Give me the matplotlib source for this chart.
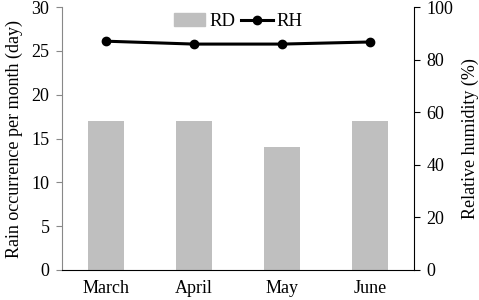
import matplotlib
matplotlib.use("Agg")
import matplotlib.pyplot as plt
import numpy as np
from matplotlib.lines import Line2D
from matplotlib.patches import Patch

months = ["March", "April", "May", "June"]
rd = [17, 17, 14, 17]
rh = [87.0, 85.9, 85.9, 86.7]
left_ticks = [0, 5, 10, 15, 20, 25, 30]
right_ticks = [0, 20, 40, 60, 80, 100]

plt.rcParams['font.family'] = ['Liberation Serif', 'DejaVu Serif']
plt.rcParams['font.size'] = 13

fig = plt.figure(figsize=(4.79, 3.0), dpi=100)
ax = fig.add_axes([62/479, 30/300, (414-62)/479, (270-7)/300])
x = np.arange(len(months))
ax.bar(x, rd, width=0.4, color="#bfbfbf", zorder=2)
ax.set_xlim(-0.5, 3.5)
ax.set_ylim(0, 30)
ax.set_yticks(left_ticks)
ax.set_xticks(x)
ax.set_xticklabels(months)
ax.tick_params(axis='x', length=0, pad=7, labelsize=13)
ax.tick_params(axis='y', direction='out', length=4, color="#888888", labelsize=13, pad=5)
ax.set_ylabel("Rain occurrence per month (day)", fontsize=13, labelpad=6)
ax.spines['top'].set_visible(False)
ax.spines['right'].set_visible(False)
ax.spines['left'].set_color("#888888")
ax.spines['bottom'].set_color("black")

ax2 = ax.twinx()
ax2.plot(x, rh, color="black", lw=2.2, marker="o", ms=6, zorder=3)
ax2.set_ylim(0, 100)
ax2.set_yticks(right_ticks)
ax2.tick_params(axis='y', direction='out', length=4, labelsize=13, pad=5)
ax2.set_ylabel("Relative humidity (%)", fontsize=13, labelpad=6)
for s in ['top', 'left', 'bottom']:
    ax2.spines[s].set_visible(False)
ax2.spines['right'].set_color("black")

handles = [Patch(color="#bfbfbf", label="RD"),
           Line2D([0], [0], color="black", lw=2.2, marker="o", ms=6, label="RH")]
ax2.legend(handles=handles, loc="upper center", ncol=2, frameon=False,
           bbox_to_anchor=(0.5, 1.04), fontsize=13.5, handlelength=1.7,
           columnspacing=0.3, handletextpad=0.2)

fig.savefig("out.png", dpi=100)
